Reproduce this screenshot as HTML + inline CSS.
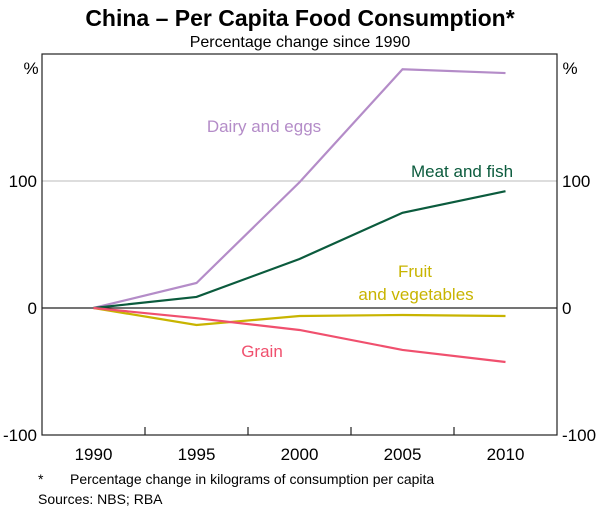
<!DOCTYPE html>
<html><head><meta charset="utf-8"><style>
body{margin:0;background:#fff;font-family:"Liberation Sans",Arial,sans-serif}
svg text{font-family:"Liberation Sans",Arial,sans-serif}
</style></head><body>
<svg width="600" height="512" viewBox="0 0 600 512" id="c">
<text x="300" y="26" text-anchor="middle" font-size="23" font-weight="bold">China – Per Capita Food Consumption*</text>
<text x="300" y="47" text-anchor="middle" font-size="16">Percentage change since 1990</text>
<g id="grid"></g>
<g id="lines"></g>
<rect x="42" y="54" width="515" height="381" fill="none" stroke="#222" stroke-width="1.2"/>
<g id="axes"></g>
<text x="31" y="74" text-anchor="middle" font-size="17">%</text>
<text x="570" y="74" text-anchor="middle" font-size="17">%</text>
<text x="264" y="132" text-anchor="middle" font-size="17" fill="#b48cc8">Dairy and eggs</text>
<text x="462" y="177" text-anchor="middle" font-size="17" fill="#0b5b3d">Meat and fish</text>
<text x="415" y="277" text-anchor="middle" font-size="17" fill="#c8b400">Fruit</text>
<text x="416" y="300" text-anchor="middle" font-size="17" fill="#c8b400">and vegetables</text>
<text x="262" y="357" text-anchor="middle" font-size="17" fill="#f0506e">Grain</text>
<text x="38" y="484" font-size="14">*</text>
<text x="70" y="484" font-size="14">Percentage change in kilograms of consumption per capita</text>
<text x="38" y="504" font-size="14">Sources:  NBS; RBA</text>
</svg>
<script>
const years=["1990","1995","2000","2005","2010"];
const dairy=[0,19.7,99,188,185];
const meat=[0,8.7,38.6,75,92];
const fruit=[0,-13.4,-6.3,-5.5,-6.3];
const grain=[0,-8,-17.3,-33,-42.5];
const yTicks=[-100,0,100];
const NS="http://www.w3.org/2000/svg";
const L=42,R=557,T=54,B=435,ymin=-100,ymax=200;
const band=(R-L)/years.length;
const xs=i=>L+band*(i+0.5);
const ys=v=>B-(v-ymin)/(ymax-ymin)*(B-T);
function mk(tag,attrs,parent){const e=document.createElementNS(NS,tag);for(const k in attrs)e.setAttribute(k,attrs[k]);document.getElementById(parent).appendChild(e);return e;}
yTicks.forEach(v=>{
  if(v>ymin){const g=mk("line",{x1:L,x2:R,y1:ys(v),y2:ys(v),stroke:v===0?"#222":"#bbb","stroke-width":v===0?1.2:1},"grid");
  
  }
  const t1=mk("text",{x:L-5,y:ys(v)+6,"text-anchor":"end","font-size":17},"axes");t1.textContent=v;
  
  
  const t2=mk("text",{x:R+5,y:ys(v)+6,"text-anchor":"start","font-size":17},"axes");t2.textContent=v;
  
  
});
years.forEach((y,i)=>{
  const t=mk("text",{x:xs(i),y:B+25,"text-anchor":"middle","font-size":17},"axes");t.textContent=y;
  
  
  if(i>0){const tk=mk("line",{x1:L+band*i,x2:L+band*i,y1:B,y2:B-8,stroke:"#222","stroke-width":1.2},"axes");
  
  }
});
[[dairy,"#b48cc8","dairy-line"],[meat,"#0b5b3d","meat-line"],[fruit,"#c8b400","fruit-line"],[grain,"#f0506e","grain-line"]].forEach(([d,c,n])=>{
  const p=mk("polyline",{points:d.map((v,i)=>xs(i)+","+ys(v)).join(" "),fill:"none",stroke:c,"stroke-width":2.2},"lines");
  
  
});
</script>
</body></html>
